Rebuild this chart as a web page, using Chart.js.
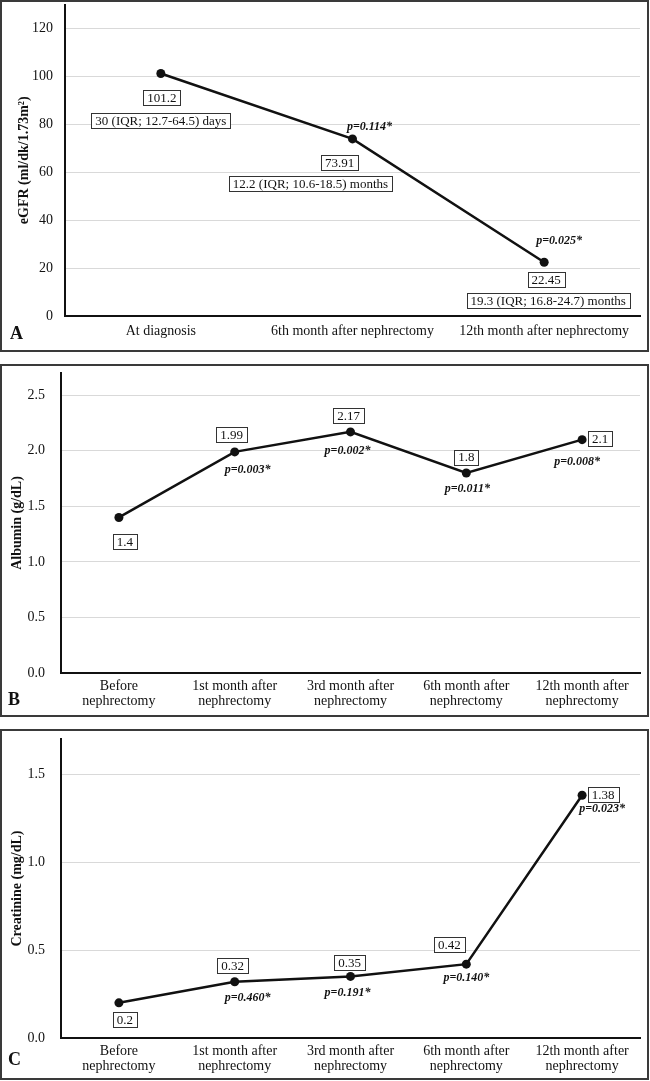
<!DOCTYPE html>
<html>
<head>
<meta charset="utf-8">
<script src="https://cdn.jsdelivr.net/npm/chart.js@4.4.1/dist/chart.umd.min.js"></script>
<style>
  body { margin: 0; background: #fff; width: 650px; height: 1081px; position: relative; overflow: hidden; }
  .wrap { position: absolute; left: 0; width: 650px; }
  .frame { position: absolute; left: 0; width: 649px; border: 2px solid #3a3a3a; box-sizing: border-box; pointer-events: none; }
  .tag { position: absolute; font: bold 18px "Liberation Serif", serif; line-height: 18px; color: #111; }
</style>
</head>
<body>
<div class="wrap" style="top:0;height:352px"><canvas id="chartA" width="650" height="352"></canvas></div>
<div class="wrap" style="top:364px;height:353px"><canvas id="chartB" width="650" height="353"></canvas></div>
<div class="wrap" style="top:729px;height:351px"><canvas id="chartC" width="650" height="351"></canvas></div>
<div class="frame" style="top:0;height:352px"></div>
<div class="frame" style="top:364px;height:353px"></div>
<div class="frame" style="top:729px;height:351px"></div>
<div class="tag" style="left:10px;top:324px">A</div>
<div class="tag" style="left:8px;top:690px">B</div>
<div class="tag" style="left:8px;top:1050px">C</div>
<script>
// --- data ---
const egfrLabels = ['At diagnosis', '6th month after nephrectomy', '12th month after nephrectomy'];
const egfrValues = [101.2, 73.91, 22.45];
const egfrPValues = [null, 'p=0.114*', 'p=0.025*'];
const egfrIntervals = ['30 (IQR; 12.7-64.5) days', '12.2 (IQR; 10.6-18.5) months', '19.3 (IQR; 16.8-24.7) months'];
const egfrTicks = [0, 20, 40, 60, 80, 100, 120];

const followLabels = [
  ['Before', 'nephrectomy'],
  ['1st month after', 'nephrectomy'],
  ['3rd month after', 'nephrectomy'],
  ['6th month after', 'nephrectomy'],
  ['12th month after', 'nephrectomy']
];
const albuminValues = [1.4, 1.99, 2.17, 1.8, 2.1];
const albuminPValues = [null, 'p=0.003*', 'p=0.002*', 'p=0.011*', 'p=0.008*'];
const albuminTicks = [0, 0.5, 1.0, 1.5, 2.0, 2.5];

const creatinineValues = [0.2, 0.32, 0.35, 0.42, 1.38];
const creatininePValues = [null, 'p=0.460*', 'p=0.191*', 'p=0.140*', 'p=0.023*'];
const creatinineTicks = [0, 0.5, 1.0, 1.5];

// label placement (pixel offsets from each point)
const egfrPlace = {
  box:  [[1, 24], [-13, 24], [2, 17]],
  note: [[0, 47], [-42, 45], [4, 38]],
  p:    [null, [17, -12], [15, -21]]
};
const albuminPlace = {
  box: [[6, 24], [-3, -17], [-2, -16], [0, -16], [18, -1]],
  p:   [null, [13, 18], [-3, 19], [1, 16], [-5, 22]]
};
const creatininePlace = {
  box: [[6, 17], [-2, -16], [-1, -14], [-17, -20], [21, -1]],
  p:   [null, [13, 16], [-3, 16], [0, 14], [20, 14]]
};

const FONT = '"Liberation Serif", "Times New Roman", serif';
Chart.defaults.font.family = FONT;
Chart.defaults.color = '#111';

function drawBox(ctx, text, cx, cy) {
  ctx.font = '13px ' + FONT;
  const w = Math.round(ctx.measureText(text).width + 8);
  const h = 15;
  const x = Math.round(cx - w / 2) + 0.5;
  const y = Math.round(cy - h / 2) + 0.5;
  ctx.fillStyle = '#fff';
  ctx.fillRect(x, y, w, h);
  ctx.strokeStyle = '#333';
  ctx.lineWidth = 1;
  ctx.strokeRect(x, y, w, h);
  ctx.fillStyle = '#111';
  ctx.fillText(text, cx, cy + 1);
}

function callouts(values, pvals, place, notes) {
  return {
    id: 'callouts',
    afterDatasetsDraw(chart) {
      const ctx = chart.ctx;
      const pts = chart.getDatasetMeta(0).data;
      ctx.save();
      ctx.textAlign = 'center';
      ctx.textBaseline = 'middle';
      pts.forEach((pt, i) => {
        drawBox(ctx, String(values[i]), pt.x + place.box[i][0], pt.y + place.box[i][1]);
        if (notes) drawBox(ctx, notes[i], pt.x + place.note[i][0], pt.y + place.note[i][1]);
        if (pvals[i]) {
          ctx.font = 'italic bold 12px ' + FONT;
          ctx.fillStyle = '#111';
          ctx.fillText(pvals[i], pt.x + place.p[i][0], pt.y + place.p[i][1]);
        }
      });
      ctx.restore();
    }
  };
}

function makeChart(id, o) {
  new Chart(document.getElementById(id), {
    type: 'line',
    data: {
      labels: o.labels,
      datasets: [{
        data: o.values,
        borderColor: '#111',
        borderWidth: 2.5,
        pointRadius: 4.5,
        pointBackgroundColor: '#111',
        pointBorderWidth: 0,
        tension: 0,
        clip: false
      }]
    },
    options: {
      responsive: false,
      animation: false,
      layout: { padding: { top: o.top, right: 10, left: 0, bottom: 0 } },
      plugins: { legend: { display: false }, tooltip: { enabled: false } },
      scales: {
        x: {
          offset: true,
          grid: { display: false, drawTicks: false },
          border: { color: '#111', width: 2 },
          ticks: { padding: o.xPad, maxRotation: 0, autoSkip: false, color: '#111',
                   font: { size: 14, lineHeight: o.lineHeight } },
          afterFit: s => { s.height = o.xHeight; s.paddingLeft = 0; s.paddingRight = 0; }
        },
        y: {
          min: 0,
          max: o.max,
          afterBuildTicks: s => { s.ticks = o.ticks.map(v => ({ value: v })); },
          afterFit: s => { s.width = o.yWidth; s.paddingTop = 0; s.paddingBottom = 0; },
          grid: { color: '#d9d9d9', lineWidth: 1, drawTicks: false },
          border: { color: '#111', width: 2 },
          ticks: { padding: o.yPad, color: '#111', font: { size: 14 },
                   callback: v => Number(v).toFixed(o.decimals) },
          title: { display: true, text: o.title, color: '#111',
                   font: { size: 14, weight: 'bold' }, padding: { top: o.titlePad, bottom: 0 } }
        }
      }
    },
    plugins: [callouts(o.values, o.pvals, o.place, o.notes)]
  });
}

makeChart('chartA', {
  labels: egfrLabels, values: egfrValues, pvals: egfrPValues, notes: egfrIntervals,
  place: egfrPlace, ticks: egfrTicks, max: 130, decimals: 0,
  title: 'eGFR (ml/dk/1.73m²)', titlePad: 15.5,
  top: 3, xHeight: 36, yWidth: 65, xPad: 7, yPad: 12, lineHeight: 1.2
});
makeChart('chartB', {
  labels: followLabels, values: albuminValues, pvals: albuminPValues,
  place: albuminPlace, ticks: albuminTicks, max: 2.7, decimals: 1,
  title: 'Albumin (g/dL)', titlePad: 9,
  top: 9, xHeight: 44, yWidth: 61, xPad: 6, yPad: 16, lineHeight: 1.07
});
makeChart('chartC', {
  labels: followLabels, values: creatinineValues, pvals: creatininePValues,
  place: creatininePlace, ticks: creatinineTicks, max: 1.7, decimals: 1,
  title: 'Creatinine (mg/dL)', titlePad: 9,
  top: 10, xHeight: 42, yWidth: 61, xPad: 6, yPad: 16, lineHeight: 1.07
});
</script>
</body>
</html>
